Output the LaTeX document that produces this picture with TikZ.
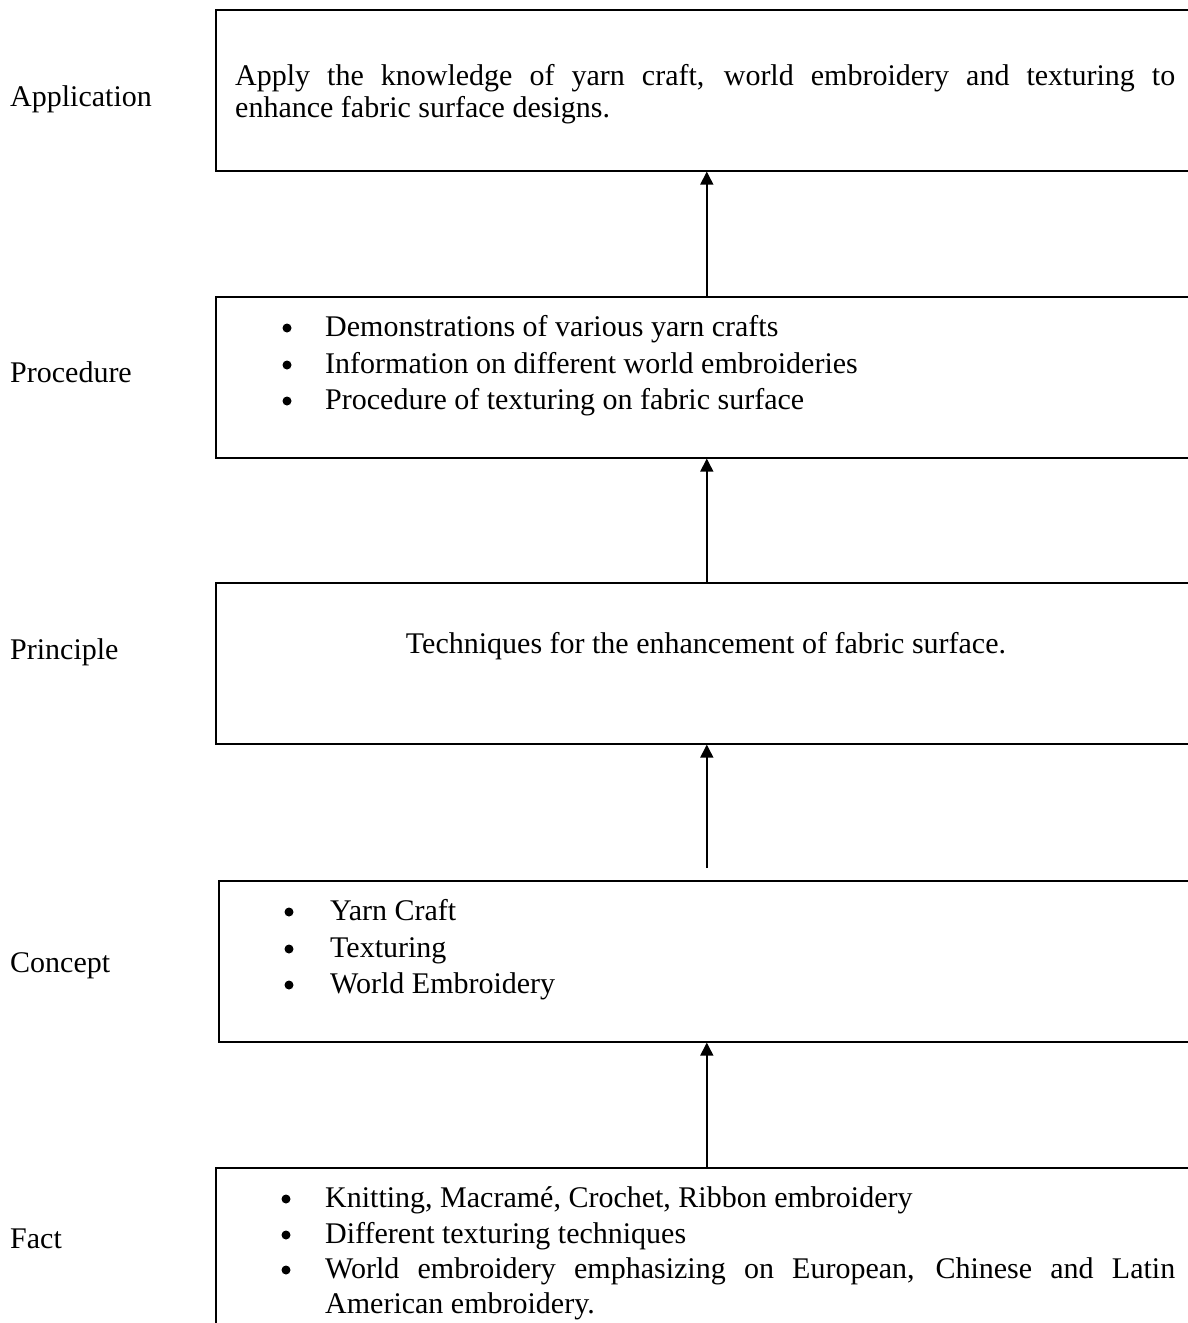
\documentclass[tikz,border=0pt]{standalone}
\usepackage{fontspec}
\setmainfont{Liberation Serif}
\usetikzlibrary{arrows.meta}
\tikzset{
  stage/.style={draw, line width=1.6pt, rectangle, inner sep=0pt, anchor=north west},
  txt/.style={inner sep=0pt, anchor=base west, font=\fontsize{30}{36}\selectfont},
  centred/.style={inner sep=0pt, anchor=base, font=\fontsize{30}{36}\selectfont},
  dot/.style={circle, fill, inner sep=0pt, minimum size=9pt},
  level/.style={txt},
  up/.style={line width=1.5pt, -{Triangle[length=13pt,width=13pt]}},
}
\begin{document}
\begin{tikzpicture}[x=1pt,y=-1pt]
\useasboundingbox (0,0) rectangle (1188,1323);
\fill[white] (0,0) rectangle (1188,1323);
\clip (0,0) rectangle (1188,1323);

% level names
\node[level] (lapp)  at (10,106)  {Application};
\node[level] (lproc) at (10,382)  {Procedure};
\node[level] (lprin) at (10,659)  {Principle};
\node[level] (lcon)  at (10,972)  {Concept};
\node[level] (lfact) at (10,1248) {Fact};

% stage boxes (they run past the right edge)
\node[stage, minimum width=982pt, minimum height=161pt] (app)  at (215,9)   {};
\node[stage, minimum width=982pt, minimum height=161pt] (proc) at (215,296) {};
\node[stage, minimum width=982pt, minimum height=161pt] (prin) at (215,582) {};
\node[stage, minimum width=976pt, minimum height=161pt] (con)  at (218,880) {};
\node[stage, minimum width=982pt, minimum height=220pt] (fact) at (215,1167) {};

% Application
\node[txt] (a1) at (235,85) {\makebox[940pt][s]{Apply the knowledge of yarn craft, world embroidery and texturing to}};
\node[txt] (a2) at (235,117) {enhance fabric surface designs.};

% Procedure
\node[dot] (pb1) at (287,328) {};
\node[dot] (pb2) at (287,365) {};
\node[dot] (pb3) at (287,401) {};
\node[txt] (p1) at (325,336) {Demonstrations of various yarn crafts};
\node[txt] (p2) at (325,373) {Information on different world embroideries};
\node[txt] (p3) at (325,409) {Procedure of texturing on fabric surface};

% Principle
\node[centred] (r1) at (706,653) {Techniques for the enhancement of fabric surface.};

% Concept
\node[dot] (cb1) at (289,912) {};
\node[dot] (cb2) at (289,949) {};
\node[dot] (cb3) at (289,985) {};
\node[txt] (c1) at (330,920) {Yarn Craft};
\node[txt] (c2) at (330,957) {Texturing};
\node[txt] (c3) at (330,993) {World Embroidery};

% Fact
\node[dot] (fb1) at (286,1199) {};
\node[dot] (fb2) at (286,1235) {};
\node[dot] (fb3) at (286,1270) {};
\node[txt] (f1) at (325,1207) {Knitting, Macramé, Crochet, Ribbon embroidery};
\node[txt] (f2) at (325,1243) {Different texturing techniques};
\node[txt] (f3) at (325,1278) {\makebox[850pt][s]{World embroidery emphasizing on European, Chinese and Latin}};
\node[txt] (f4) at (325,1313) {American embroidery.};

% upward links
\draw[up] (proc.north) -- (app.south);
\draw[up] (prin.north) -- (proc.south);
\draw[up, shorten <=12pt] (con.north) -- (prin.south);
\draw[up] (fact.north) -- (con.south);
\end{tikzpicture}
\end{document}
